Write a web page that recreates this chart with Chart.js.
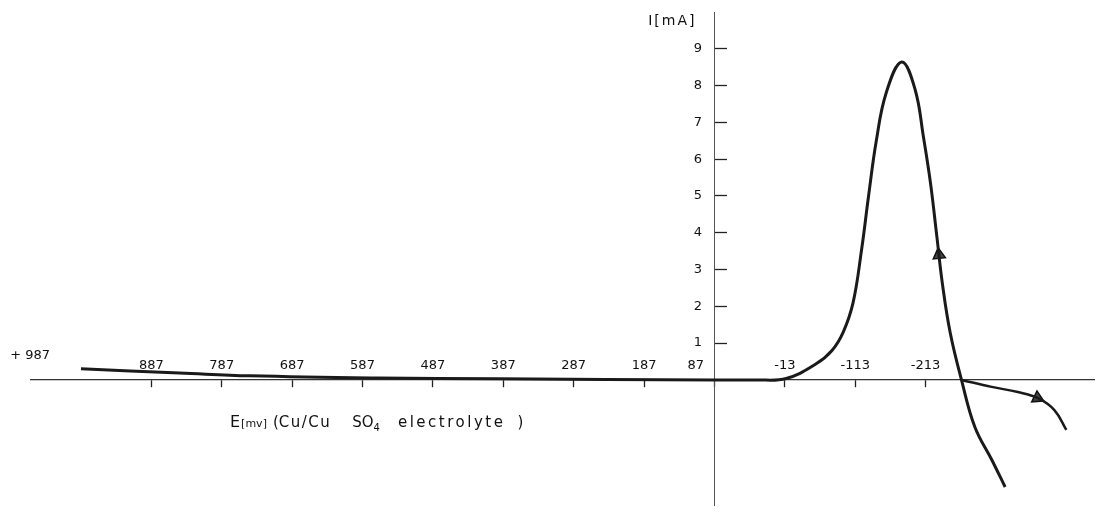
<!DOCTYPE html>
<html>
<head>
<meta charset="utf-8">
<script src="https://cdn.jsdelivr.net/npm/chart.js@4"></script>
<style>
  html, body { margin: 0; padding: 0; background: #fff; }
  #wrap { width: 1103px; height: 514px; }
</style>
</head>
<body>
<div id="wrap"><canvas id="myChart"></canvas></div>
<script>
// E in mV (axis runs from +987 on the left to negative values on the right), I in mA
const scanE = [987, 847, 747, 565, 395, 87, 28, -15, -57, -80, -96, -110, -122, -132, -143, -157, -179, -198, -210, -220, -229, -237, -248, -264, -283, -307, -326];
const scanI = [0.30, 0.19, 0.11, 0.05, 0.03, 0, 0, 0.04, 0.43, 0.80, 1.30, 2.10, 3.53, 5.00, 6.50, 7.80, 8.64, 7.90, 6.60, 5.35, 3.90, 2.60, 1.28, 0, -1.28, -2.17, -2.91];

// branch leaving the crossing point towards the right
const tailE = [-264, -307, -344, -372, -396, -413];
const tailI = [0, -0.19, -0.33, -0.49, -0.82, -1.36];

// arrow heads (direction of the scan)
const arrowE = [-232, -372];
const arrowI = [3.40, -0.49];
const arrowAngle = [-6, 116];

const xTicks = [887, 787, 687, 587, 487, 387, 287, 187, 87, -13, -113, -213];
const xTickLabels = ['887', '787', '687', '587', '487', '387', '287', '187', '87', '-13', '-113', '-213'];
const yTicks = [1, 2, 3, 4, 5, 6, 7, 8, 9];
const startLabel = '+ 987';

Chart.defaults.font.family = '"DejaVu Sans", sans-serif';
Chart.defaults.color = '#111';

const annotate = {
  id: 'annotate',
  afterDraw(chart) {
    const ctx = chart.ctx;
    const x = chart.scales.x, y = chart.scales.y;
    const ax = x.getPixelForValue(87);
    const ay = y.getPixelForValue(0);
    ctx.save();
    ctx.fillStyle = '#111';
    ctx.textBaseline = 'alphabetic';

    // y axis title
    ctx.font = '14px "DejaVu Sans"';
    ctx.letterSpacing = '2px';
    ctx.textAlign = 'right';
    ctx.fillText('I[mA]', ax - 18, 25);

    // start potential
    ctx.font = '13px "DejaVu Sans"';
    ctx.letterSpacing = '0px';
    ctx.fillText(startLabel, x.getPixelForValue(scanE[0]) - 31, y.getPixelForValue(scanI[0]) - 10);

    // x axis title
    ctx.textAlign = 'left';
    let px = chart.chartArea.left + 199;
    const base = ay + 47;
    const parts = [
      ['E', 16, 0, 0, 1],
      ['[mv]', 11, 0, 0, 6],
      ['(', 15, 0, 0, 0],
      ['Cu/Cu', 15, 1.5, 0, 21],
      ['SO', 15, 0, 0, 0],
      ['4', 10, 0, 4, 18],
      ['electrolyte', 15, 2.5, 0, 12],
      [')', 15, 0, 0, 0]
    ];
    parts.forEach(p => {
      ctx.font = p[1] + 'px "DejaVu Sans"';
      ctx.letterSpacing = p[2] + 'px';
      ctx.fillText(p[0], px, base + p[3]);
      px += ctx.measureText(p[0]).width + p[4];
    });
    ctx.restore();
  }
};

const ctx = document.getElementById('myChart').getContext('2d');
new Chart(ctx, {
  type: 'line',
  data: {
    datasets: [
      {
        data: scanE.map((e, i) => ({ x: e, y: scanI[i] })),
        borderColor: '#1a1a1a',
        borderWidth: 3,
        pointRadius: 0,
        tension: 0.4,
        fill: false
      },
      {
        data: tailE.map((e, i) => ({ x: e, y: tailI[i] })),
        borderColor: '#1a1a1a',
        borderWidth: 2.5,
        pointRadius: 0,
        tension: 0.4,
        fill: false
      },
      {
        data: arrowE.map((e, i) => ({ x: e, y: arrowI[i] })),
        showLine: false,
        pointStyle: 'triangle',
        pointRotation: arrowAngle,
        pointRadius: 7,
        pointBackgroundColor: '#444',
        pointBorderColor: '#111',
        pointBorderWidth: 1.5
      }
    ]
  },
  options: {
    responsive: true,
    maintainAspectRatio: false,
    animation: false,
    layout: { padding: { left: 31, right: 3, top: 12, bottom: 9 } },
    plugins: { legend: { display: false }, tooltip: { enabled: false } },
    scales: {
      x: {
        type: 'linear',
        reverse: true,
        min: -453,
        max: 1058,
        position: { y: 0 },
        afterBuildTicks: s => { s.ticks = xTicks.map(v => ({ value: v })); },
        grid: { drawOnChartArea: false, drawTicks: true, tickLength: 7, tickWidth: 1.3, tickColor: '#222' },
        border: { color: '#333', width: 1.2 },
        ticks: {
          padding: -29,
          maxRotation: 0,
          autoSkip: false,
          font: { size: 13 },
          callback: v => {
            const lbl = xTickLabels[xTicks.indexOf(v)];
            return v === 87 ? lbl + ' '.repeat(9) : lbl;
          }
        }
      },
      y: {
        type: 'linear',
        min: -3.4,
        max: 10,
        position: { x: 87 },
        afterBuildTicks: s => { s.ticks = yTicks.map(v => ({ value: v })); },
        grid: { drawOnChartArea: false, drawTicks: true, tickLength: -13, tickWidth: 1.3, tickColor: '#222' },
        border: { color: '#555', width: 1 },
        ticks: {
          padding: 0,
          font: { size: 13 },
          callback: v => v + '   '
        }
      }
    }
  },
  plugins: [annotate]
});
</script>
</body>
</html>
